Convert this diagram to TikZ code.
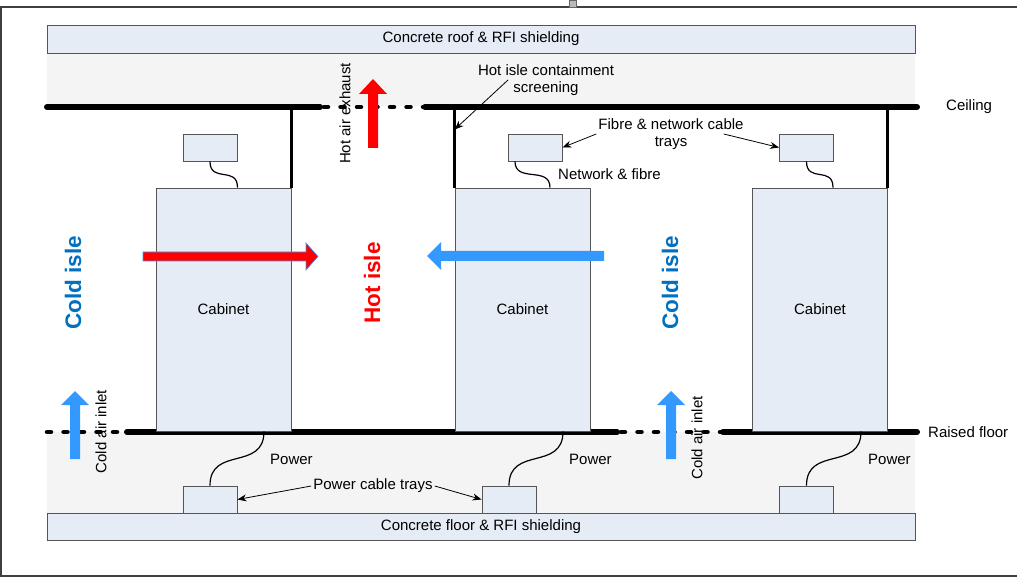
\documentclass[tikz,border=0pt]{standalone}
\usepackage{fontspec}
\setmainfont{Liberation Sans}
\usetikzlibrary{positioning,arrows.meta}
\definecolor{boxfill}{HTML}{E6ECF6}
\definecolor{boxline}{HTML}{555555}
\definecolor{airblue}{HTML}{3399FF}
\definecolor{isleblue}{HTML}{0070C0}
\definecolor{voidgrey}{HTML}{F4F4F4}

\begin{document}
\begin{tikzpicture}[
    x=1pt, y=-1pt,
    every node/.style={font=\fontsize{15}{17.5}\selectfont, inner sep=2pt},
    slab/.style={draw=boxline, fill=boxfill, line width=0.9pt,
      minimum width=868pt, minimum height=28pt},
    cabinet/.style={draw=boxline, fill=boxfill, line width=0.9pt,
      minimum width=135pt, minimum height=243pt},
    tray/.style={draw=boxline, fill=boxfill, line width=0.9pt,
      minimum width=54pt, minimum height=27pt},
    beam/.style={line width=6pt, line cap=round},
    gap/.style={line width=4.5pt, line cap=round, dash pattern=on 4pt off 12.5pt},
    screen/.style={line width=3pt},
    cable/.style={line width=1.2pt},
    ptr/.style={line width=0.8pt, -{Stealth[length=9pt,width=7pt]}},
    vlabel/.style={rotate=90},
    isle/.style={rotate=90, font=\fontsize{22.5}{27}\selectfont\bfseries},
    hotflow/.style={fill=red},
    coldflow/.style={fill=airblue}
  ]
  \useasboundingbox (0,0) rectangle (1017,577);

  % outer frame
  \draw[black!75, line width=1.2pt] (1017,7) -- (1,7) -- (1,576) -- (1017,576);
  \filldraw[fill=gray!55, draw=black!60] (569,0) rectangle (576,7);

  % voids above the ceiling and under the raised floor
  \fill[voidgrey] (47,53) rectangle (915,106);
  \fill[voidgrey] (47,432) rectangle (915,513);

  \node[slab] (roof) at (481,39) {Concrete roof \& RFI shielding};
  \node[slab, minimum height=27pt] (floor) at (481,526.5) {Concrete floor \& RFI shielding};

  \node[anchor=west] (ceil) at (944,107) {Ceiling};
  \node[anchor=west] (rfloor) at (926,432) {Raised floor};

  % ceiling, open above the hot isle
  \draw[beam] (47,107) -- (320,107);
  \draw[gap] (324,107) -- (425,107);
  \draw[beam] (425,107) -- (917,107);

  % raised floor, open in the cold isles
  \draw[gap] (47,432) -- (127,432);
  \draw[beam] (127,432) -- (617,432);
  \draw[gap] (621,432) -- (723,432);
  \draw[beam] (723,432) -- (917,432);

  \node[cabinet] (cab1) at (223.5,309.5) {Cabinet};
  \node[cabinet] (cab2) at (522.5,309.5) {Cabinet};
  \node[cabinet] (cab3) at (820,309.5) {Cabinet};

  % containment screens
  \draw[screen] (cab1.north east) -- (cab1.north east |- ceil.west);
  \draw[screen] (cab2.north west) -- (cab2.north west |- ceil.west);
  \draw[screen] (cab3.north east) -- (cab3.north east |- ceil.west);

  % cable trays
  \node[tray] (ft1) at (210,147.5) {};
  \node[tray] (ft2) at (535,147.5) {};
  \node[tray] (ft3) at (806.5,147.5) {};
  \node[tray] (pt1) at (210,499.5) {};
  \node[tray] (pt2) at (509,499.5) {};
  \node[tray] (pt3) at (806.5,499.5) {};

  % cables
  \draw[cable] (ft1.south) .. controls +(0,22) and +(0,-22) .. ([xshift=14pt]cab1.north);
  \draw[cable] ([xshift=-20pt]ft2.south) .. controls +(0,22) and +(0,-22) .. ([xshift=27.5pt]cab2.north);
  \draw[cable] (ft3.south) .. controls +(0,22) and +(0,-22) .. ([xshift=13pt]cab3.north);
  \draw[cable] ([xshift=40.5pt]cab1.south) .. controls +(0,40) and +(0,-40) .. (pt1.north);
  \draw[cable] ([xshift=40.5pt]cab2.south) .. controls +(0,40) and +(0,-40) .. (pt2.north);
  \draw[cable] ([xshift=41pt]cab3.south) .. controls +(0,40) and +(0,-40) .. (pt3.north);

  % air flow
  \filldraw[hotflow, draw=airblue, line width=0.6pt] (143,252) -- (306,252) -- (306,243)
    -- (318,256.5) -- (306,270) -- (306,261) -- (143,261) -- cycle;
  \fill[coldflow] (604,251) -- (441,251) -- (441,242) -- (427,256) -- (441,270)
    -- (441,261) -- (604,261) -- cycle;
  \fill[hotflow] (368,148) -- (368,94) -- (359,94) -- (373,79) -- (387,94)
    -- (378,94) -- (378,148) -- cycle;
  \fill[coldflow] (70,459) -- (70,405) -- (61,405) -- (75,391) -- (89,405)
    -- (80,405) -- (80,459) -- cycle;
  \fill[coldflow] (666,459) -- (666,405) -- (657,405) -- (671,391) -- (685,405)
    -- (676,405) -- (676,459) -- cycle;

  \node[vlabel] (exhaust) at (345,113.5) {Hot air exhaust};
  \node[vlabel] (inlet1) at (101,431.5) {Cold air inlet};
  \node[vlabel] (inlet2) at (697,438) {Cold air inlet};
  \node[isle, text=isleblue] (cold1) at (73,283) {Cold isle};
  \node[isle, text=red] (hot) at (372,283) {Hot isle};
  \node[isle, text=isleblue] (cold2) at (670,283) {Cold isle};

  % callouts
  \node[align=center] (contain) at (546,80) {Hot isle containment\\screening};
  \node[align=center] (fibtrays) at (671,134) {Fibre \& network cable\\trays};
  \node[anchor=west] (netfib) at (556,174) {Network \& fibre};
  \node (pwrtrays) at (373,486) {Power cable trays};
  \node[anchor=west] (pwr1) at (268,459) {Power};
  \node[anchor=west] (pwr2) at (567,459) {Power};
  \node[anchor=west] (pwr3) at (866,459) {Power};

  \draw[ptr] ([xshift=-38pt]contain.center) -- ([yshift=58pt]cab2.north west);
  \draw[ptr] (fibtrays.west) -- (ft2.east);
  \draw[ptr] ([xshift=-22pt]fibtrays.east) -- (ft3.west);
  \draw[ptr] (pwrtrays.west) -- (pt1.east);
  \draw[ptr] (pwrtrays.east) -- (pt2.west);
\end{tikzpicture}
\end{document}
